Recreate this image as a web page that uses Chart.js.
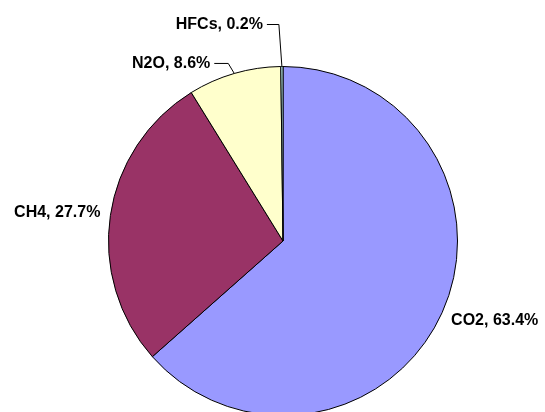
<!DOCTYPE html>
<html>
<head>
<meta charset="utf-8">
<script src="https://cdn.jsdelivr.net/npm/chart.js@4/dist/chart.umd.min.js"></script>
<style>
  html, body { margin: 0; padding: 0; background: #fff; overflow: hidden; }
  #wrap { width: 545px; height: 430px; }
</style>
</head>
<body>
<div id="wrap"><canvas id="chart" width="545" height="430"></canvas></div>
<script>
// Greenhouse gas shares (%)
const gases = ['CO2', 'CH4', 'N2O', 'HFCs'];
const shares = [63.4, 27.7, 8.6, 0.2];
const sliceColors = ['#9999FF', '#993366', '#FFFFCC', '#CCFFFF'];

// label placement relative to the slice's outer edge at mid angle
// elbow/end are for leader lines (null = no leader)
const labelLayout = {
    CO2:  { dx: 9,   dy: 8,   align: 'left' },
    CH4:  { dx: -10, dy: -3,  align: 'right' },
    N2O:  { dx: -24, dy: -10, align: 'right', elbow: [-6, -10], end: -20 },
    HFCs: { dx: -19, dy: -42, align: 'right', elbow: [-3, -42], end: -15 }
};

const outsideLabels = {
    id: 'outsideLabels',
    afterDraw(chart) {
        const ctx = chart.ctx;
        const meta = chart.getDatasetMeta(0);
        ctx.save();
        ctx.font = 'bold 16px "Liberation Sans", Arial, sans-serif';
        ctx.fillStyle = '#000';
        ctx.strokeStyle = '#000';
        ctx.lineWidth = 1;
        ctx.textBaseline = 'middle';
        meta.data.forEach((arc, i) => {
            const p = arc.getProps(['x', 'y', 'startAngle', 'endAngle', 'outerRadius'], true);
            const mid = (p.startAngle + p.endAngle) / 2;
            const ex = p.x + Math.cos(mid) * p.outerRadius;
            const ey = p.y + Math.sin(mid) * p.outerRadius;
            const lay = labelLayout[gases[i]];
            if (lay.elbow) {
                ctx.beginPath();
                ctx.moveTo(ex, ey);
                ctx.lineTo(ex + lay.elbow[0], ey + lay.elbow[1]);
                ctx.lineTo(ex + lay.end, ey + lay.elbow[1]);
                ctx.stroke();
            }
            ctx.textAlign = lay.align;
            ctx.fillText(gases[i] + ', ' + shares[i].toFixed(1) + '%', ex + lay.dx, ey + lay.dy);
        });
        ctx.restore();
    }
};

new Chart(document.getElementById('chart'), {
    type: 'pie',
    data: {
        labels: gases,
        datasets: [{
            data: shares,
            backgroundColor: sliceColors,
            borderColor: '#000',
            borderWidth: 1
        }]
    },
    options: {
        responsive: false,
        animation: false,
        layout: { padding: { left: 108, right: 87, top: 66, bottom: 14 } },
        plugins: {
            legend: { display: false },
            tooltip: { enabled: false }
        }
    },
    plugins: [outsideLabels]
});
</script>
</body>
</html>
